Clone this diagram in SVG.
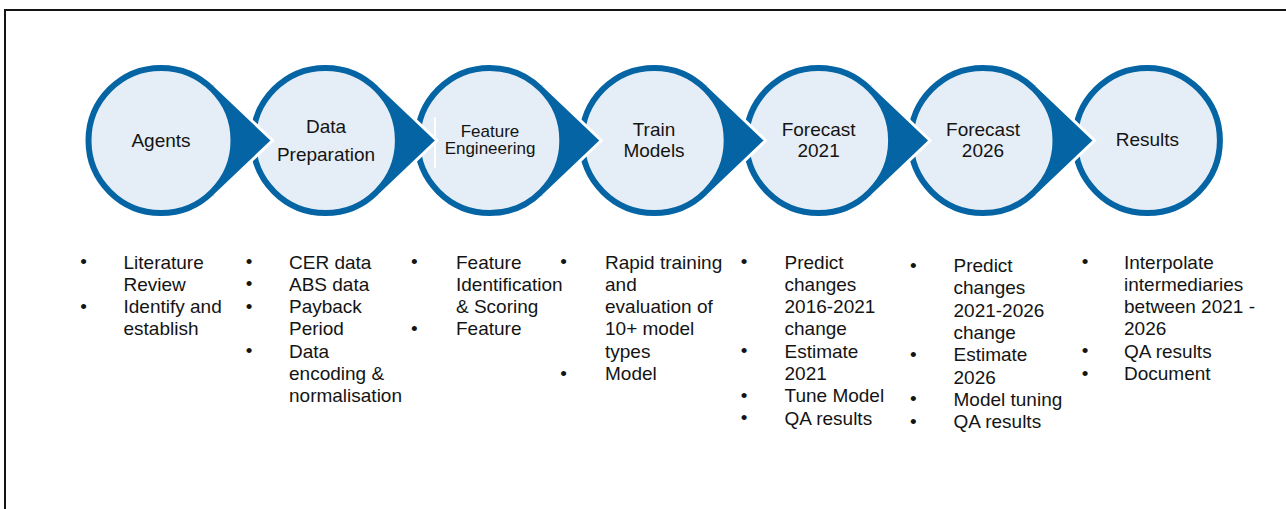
<svg xmlns="http://www.w3.org/2000/svg" xmlns:xlink="http://www.w3.org/1999/xlink" width="1286" height="509" viewBox="0 0 1286 509">
  <style>
    .frame { fill: none; stroke: #141414; stroke-width: 2; }
    .disc { fill: #E5EEF6; stroke: #0464A4; stroke-width: 6; }
    .tip { fill: #0464A4; }
    .tip-edge { fill: none; stroke: #FFFFFF; stroke-width: 3; stroke-linejoin: miter; }
    .label { font-family: "Liberation Sans", Arial, sans-serif; font-size: 19px; fill: #141414; text-anchor: middle; }
    .label.small { font-size: 17px; }
    .item { font-family: "Liberation Sans", Arial, sans-serif; font-size: 19px; fill: #141414; }
    .dot { font-family: "Liberation Sans", Arial, sans-serif; font-size: 19px; fill: #141414; text-anchor: middle; }
  </style>
  <defs>
    <!-- step disc, centred on the origin -->
    <circle id="disc" cx="0" cy="0" r="72.5"/>
    <!-- arrow point leaving a disc to the right -->
    <path id="tipFill" d="M53.18,-55.69 L111.5,0 L53.18,55.69 L49.72,52.08 A72,72 0 0 0 49.72,-52.08 Z"/>
    <path id="tipEdge" d="M53.18,-55.69 L111.5,0 L53.18,55.69"/>
  </defs>

  <rect width="1286" height="509" fill="#FFFFFF"/>
  <path class="frame" d="M5,509 V10 H1286"/>

  <g id="node-agents">
    <use xlink:href="#disc" class="disc" x="161" y="140.5"/>
    <text class="label" x="161" y="146.5">Agents</text>
    <text class="dot" x="83.5" y="268">•</text>
    <text class="dot" x="83.5" y="312.6">•</text>
    <text class="item" x="123.5">
      <tspan x="123.5" y="268.5">Literature</tspan>
      <tspan x="123.5" y="290.8">Review</tspan>
      <tspan x="123.5" y="313.1">Identify and</tspan>
      <tspan x="123.5" y="335.4">establish</tspan>
    </text>
  </g>

  <g id="node-data-preparation">
    <use xlink:href="#disc" class="disc" x="325.4" y="140.5"/>
    <text class="label" x="326" y="132.7">Data</text>
    <text class="label" x="326" y="160.7">Preparation</text>
    <text class="dot" x="249" y="268">•</text>
    <text class="dot" x="249" y="290.3">•</text>
    <text class="dot" x="249" y="312.6">•</text>
    <text class="dot" x="249" y="357.2">•</text>
    <text class="item">
      <tspan x="289" y="268.5">CER data</tspan>
      <tspan x="289" y="290.8">ABS data</tspan>
      <tspan x="289" y="313.1">Payback</tspan>
      <tspan x="289" y="335.4">Period</tspan>
      <tspan x="289" y="357.7">Data</tspan>
      <tspan x="289" y="380">encoding &amp;</tspan>
      <tspan x="289" y="402.3">normalisation</tspan>
    </text>
  </g>

  <g id="node-feature-engineering">
    <use xlink:href="#disc" class="disc" x="489.8" y="140.5"/>
    <!-- left edge of the label box -->
    <rect x="434" y="117" width="2" height="51" fill="#FFFFFF"/>
    <text class="label small" x="490" y="137.3">Feature</text>
    <text class="label small" x="490" y="154.3">Engineering</text>
    <text class="dot" x="414.3" y="268">•</text>
    <text class="dot" x="414.3" y="334.9">•</text>
    <text class="item">
      <tspan x="456" y="268.5">Feature</tspan>
      <tspan x="456" y="290.8">Identification</tspan>
      <tspan x="456" y="313.1">&amp; Scoring</tspan>
      <tspan x="456" y="335.4">Feature</tspan>
    </text>
  </g>

  <g id="node-train-models">
    <use xlink:href="#disc" class="disc" x="654.2" y="140.5"/>
    <text class="label" x="654" y="136">Train</text>
    <text class="label" x="654" y="156.7">Models</text>
    <text class="dot" x="563.5" y="268">•</text>
    <text class="dot" x="563.5" y="379.5">•</text>
    <text class="item">
      <tspan x="605" y="268.5">Rapid training</tspan>
      <tspan x="605" y="290.8">and</tspan>
      <tspan x="605" y="313.1">evaluation of</tspan>
      <tspan x="605" y="335.4">10+ model</tspan>
      <tspan x="605" y="357.7">types</tspan>
      <tspan x="605" y="380">Model</tspan>
    </text>
  </g>

  <g id="node-forecast-2021">
    <use xlink:href="#disc" class="disc" x="818.6" y="140.5"/>
    <text class="label" x="818.6" y="136">Forecast</text>
    <text class="label" x="818.6" y="156.7">2021</text>
    <text class="dot" x="744" y="268">•</text>
    <text class="dot" x="744" y="357.2">•</text>
    <text class="dot" x="744" y="401.8">•</text>
    <text class="dot" x="744" y="424.1">•</text>
    <text class="item">
      <tspan x="784.5" y="268.5">Predict</tspan>
      <tspan x="784.5" y="290.8">changes</tspan>
      <tspan x="784.5" y="313.1">2016-2021</tspan>
      <tspan x="784.5" y="335.4">change</tspan>
      <tspan x="784.5" y="357.7">Estimate</tspan>
      <tspan x="784.5" y="380">2021</tspan>
      <tspan x="784.5" y="402.3">Tune Model</tspan>
      <tspan x="784.5" y="424.6">QA results</tspan>
    </text>
  </g>

  <g id="node-forecast-2026">
    <use xlink:href="#disc" class="disc" x="983" y="140.5"/>
    <text class="label" x="983" y="136">Forecast</text>
    <text class="label" x="983" y="156.7">2026</text>
    <text class="dot" x="913.3" y="271.5">•</text>
    <text class="dot" x="913.3" y="360.7">•</text>
    <text class="dot" x="913.3" y="405.3">•</text>
    <text class="dot" x="913.3" y="427.6">•</text>
    <text class="item">
      <tspan x="953.5" y="272">Predict</tspan>
      <tspan x="953.5" y="294.3">changes</tspan>
      <tspan x="953.5" y="316.6">2021-2026</tspan>
      <tspan x="953.5" y="338.9">change</tspan>
      <tspan x="953.5" y="361.2">Estimate</tspan>
      <tspan x="953.5" y="383.5">2026</tspan>
      <tspan x="953.5" y="405.8">Model tuning</tspan>
      <tspan x="953.5" y="428.1">QA results</tspan>
    </text>
  </g>

  <g id="node-results">
    <use xlink:href="#disc" class="disc" x="1147.4" y="140.5"/>
    <text class="label" x="1147.4" y="146">Results</text>
    <text class="dot" x="1085" y="268">•</text>
    <text class="dot" x="1085" y="357.2">•</text>
    <text class="dot" x="1085" y="379.5">•</text>
    <text class="item">
      <tspan x="1124" y="268.5">Interpolate</tspan>
      <tspan x="1124" y="290.8">intermediaries</tspan>
      <tspan x="1124" y="313.1">between 2021 -</tspan>
      <tspan x="1124" y="335.4">2026</tspan>
      <tspan x="1124" y="357.7">QA results</tspan>
      <tspan x="1124" y="380">Document</tspan>
    </text>
  </g>

  <!-- arrow points: each one overlaps the next disc, outlined in white -->
  <g id="connectors">
    <use xlink:href="#tipFill" class="tip" x="161" y="140.5"/>
    <use xlink:href="#tipEdge" class="tip-edge" x="161" y="140.5"/>
    <use xlink:href="#tipFill" class="tip" x="325.4" y="140.5"/>
    <use xlink:href="#tipEdge" class="tip-edge" x="325.4" y="140.5"/>
    <use xlink:href="#tipFill" class="tip" x="489.8" y="140.5"/>
    <use xlink:href="#tipEdge" class="tip-edge" x="489.8" y="140.5"/>
    <use xlink:href="#tipFill" class="tip" x="654.2" y="140.5"/>
    <use xlink:href="#tipEdge" class="tip-edge" x="654.2" y="140.5"/>
    <use xlink:href="#tipFill" class="tip" x="818.6" y="140.5"/>
    <use xlink:href="#tipEdge" class="tip-edge" x="818.6" y="140.5"/>
    <use xlink:href="#tipFill" class="tip" x="983" y="140.5"/>
    <use xlink:href="#tipEdge" class="tip-edge" x="983" y="140.5"/>
  </g>
</svg>
